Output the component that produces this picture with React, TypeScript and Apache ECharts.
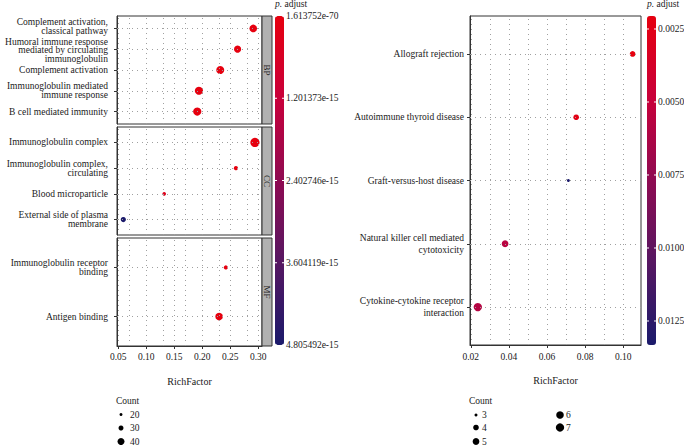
import React, { useEffect, useRef } from 'react';
import * as echarts from 'echarts';

// ---------- data (left: GO enrichment, three facets) ----------
const facetNames = ['BP', 'CC', 'MF'];

const bpTerms = [
  'Complement activation,\nclassical pathway',
  'Humoral immune response\nmediated by circulating\nimmunoglobulin',
  'Complement activation',
  'Immunoglobulin mediated\nimmune response',
  'B cell mediated immunity',
];
const bpRichFactor = [0.291, 0.263, 0.232, 0.194, 0.191];
const bpCount = [43, 41, 45, 46, 46];
const bpPadjust = [3.2e-40, 1.1e-38, 2.5e-35, 1.8e-30, 2.1e-30];

const ccTerms = [
  'Immunoglobulin complex',
  'Immunoglobulin complex,\ncirculating',
  'Blood microparticle',
  'External side of plasma\nmembrane',
];
const ccRichFactor = [0.294, 0.26, 0.132, 0.059];
const ccCount = [51, 26, 23, 31];
const ccPadjust = [1.613752e-70, 4.2e-20, 3.1e-16, 4.805492e-15];

const mfTerms = ['Immunoglobulin receptor\nbinding', 'Antigen binding'];
const mfRichFactor = [0.242, 0.23];
const mfCount = [26, 43];
const mfPadjust = [6.5e-18, 2.3e-45];

// ---------- data (right: KEGG enrichment) ----------
const keggTerms = [
  'Allograft rejection',
  'Autoimmune thyroid disease',
  'Graft-versus-host disease',
  'Natural killer cell mediated\ncytotoxicity',
  'Cytokine-cytokine receptor\ninteraction',
];
const keggRichFactor = [0.1049, 0.0753, 0.0712, 0.038, 0.0237];
const keggCount = [4, 4, 3, 5, 7];
const keggPadjust = [0.002055, 0.0024, 0.013322, 0.0056, 0.0058];

// ---------- axes / legends ----------
const leftXTicks = [0.05, 0.1, 0.15, 0.2, 0.25, 0.3];
const leftXGridLines = [0.05, 0.075, 0.1, 0.125, 0.15, 0.175, 0.2, 0.225, 0.25, 0.275, 0.3];
const rightXTicks = [0.02, 0.04, 0.06, 0.08, 0.1];
const rightXGridLines = [0.02, 0.03, 0.04, 0.05, 0.06, 0.07, 0.08, 0.09, 0.1];

const leftColorTicks = [1.613752e-70, 1.201373e-15, 2.402746e-15, 3.604119e-15, 4.805492e-15];
const leftColorTickLabels = ['1.613752e-70', '1.201373e-15', '2.402746e-15', '3.604119e-15', '4.805492e-15'];
const rightColorTicks = [0.0025, 0.005, 0.0075, 0.01, 0.0125];
const rightColorTickLabels = ['0.0025', '0.0050', '0.0075', '0.0100', '0.0125'];
const rightColorRange = [0.002055, 0.013322];

const leftLegendCounts = [20, 30, 40];
const rightLegendCounts = [3, 4, 5, 6, 7];

// ---------- styling ----------
const FONT = 'Liberation Serif';
const TXT = '#1a1a1a';
const BORDER = '#333333';
const GRIDC = '#a0a0a0';
const COLORS = ['#e6000f', '#c8003a', '#8e0b52', '#561762', '#1b1a6b'];

const leftSize = (c: number) => 0.2 * c - 1;
const rightSize = (c: number) => 3 + 5.3 * Math.sqrt((c - 3) / 4);

const leftPanelLayout = [
  { top: 16, height: 108 },
  { top: 127, height: 108 },
  { top: 238, height: 108 },
];
const leftGridX = { left: 117, width: 145 };
const rightGrid = { left: 470, top: 16, width: 171, height: 329 };
const leftXRange = [0.0477, 0.3066];
const rightXRange = [0.0196, 0.1093];
const barLeft = { x: 275, top: 16, h: 329, w: 9 };
const barRight = { x: 647, top: 16, h: 329, w: 9 };
// small vertical nudges (axis units) of the crowded labels in the BP facet, as in the reference
const labelNudge: Record<number, Record<number, number>> = { 0: { 5: 0.09, 4: -0.06 } };

export default function App() {
  const ref = useRef<HTMLDivElement>(null);

  useEffect(() => {
    if (!ref.current) return;
    const chart = echarts.init(ref.current, undefined, { renderer: 'svg' });

    const facets = [
      { terms: bpTerms, rich: bpRichFactor, count: bpCount, padj: bpPadjust },
      { terms: ccTerms, rich: ccRichFactor, count: ccCount, padj: ccPadjust },
      { terms: mfTerms, rich: mfRichFactor, count: mfCount, padj: mfPadjust },
    ];
    const allFacets = [
      ...facets,
      { terms: keggTerms, rich: keggRichFactor, count: keggCount, padj: keggPadjust },
    ];

    const grids: any[] = [];
    const xAxes: any[] = [];
    const yAxes: any[] = [];
    const series: any[] = [];

    allFacets.forEach((f, g) => {
      const isRight = g === 3;
      const n = f.terms.length;
      const showX = g === 2 || g === 3;
      const lay = isRight
        ? rightGrid
        : { left: leftGridX.left, width: leftGridX.width, top: leftPanelLayout[g].top, height: leftPanelLayout[g].height };
      grids.push({
        left: lay.left, top: lay.top, width: lay.width, height: lay.height,
        show: true, borderColor: BORDER, borderWidth: 1, backgroundColor: '#ffffff', containLabel: false,
      });
      const ticks = isRight ? rightXTicks : leftXTicks;
      const range = isRight ? rightXRange : leftXRange;
      xAxes.push({
        gridIndex: g, type: 'value', min: range[0], max: range[1],
        axisLine: { show: showX, lineStyle: { color: BORDER, width: 1 } },
        axisTick: { show: showX, length: 3, customValues: ticks, lineStyle: { color: BORDER } },
        axisLabel: {
          show: showX, customValues: ticks, formatter: (v: number) => v.toFixed(2),
          showMinLabel: true, showMaxLabel: true, hideOverlap: false,
          fontFamily: FONT, fontSize: 9.5, color: TXT, margin: isRight ? 7 : 6,
        },
        splitLine: { show: false },
        name: showX ? 'RichFactor' : '', nameLocation: 'middle', nameGap: 30,
        nameTextStyle: { fontFamily: FONT, fontSize: 10, color: TXT },
      });
      const yVals = f.terms.map((_, i) => i + 1);
      const nudge = labelNudge[g] || {};
      const nv = (v: number) => v + (nudge[v] || 0);
      // top term listed first so the multi-line neighbours are not dropped by the overlap check
      const labelVals = [nv(n), ...yVals.slice(0, n - 1).map(nv)];
      yAxes.push({
        gridIndex: g, type: 'value', min: 0.4, max: n + 0.6,
        axisLine: { show: true, lineStyle: { color: BORDER, width: 1 } },
        axisTick: { show: true, length: 3, customValues: yVals, lineStyle: { color: BORDER } },
        axisLabel: {
          customValues: labelVals,
          hideOverlap: false,
          formatter: (v: number) => f.terms[n - Math.round(v)] ?? '',
          fontFamily: FONT, fontSize: 9.5, lineHeight: isRight ? 12 : 8.8, color: TXT,
          margin: isRight ? 6 : 9, align: 'right',
        },
        splitLine: { show: false },
      });
      const gl = isRight ? rightXGridLines : leftXGridLines;
      series.push({
        type: 'line', xAxisIndex: g, yAxisIndex: g, data: [], z: 1, silent: true,
        markLine: {
          silent: true, symbol: ['none', 'none'], label: { show: false },
          lineStyle: { type: [1, 4], color: GRIDC, width: 1 },
          emphasis: { disabled: true },
          data: [...gl.map((v) => ({ xAxis: v })), ...yVals.map((v) => ({ yAxis: v }))],
        },
      });
    });

    const scatterStart = series.length;
    allFacets.forEach((f, g) => {
      const n = f.terms.length;
      const sizeFn = g === 3 ? rightSize : leftSize;
      series.push({
        type: 'scatter', xAxisIndex: g, yAxisIndex: g, z: 3, silent: true,
        symbol: 'circle',
        symbolSize: (val: number[]) => sizeFn(val[3]),
        itemStyle: { opacity: 1 },
        data: f.terms.map((t, i) => [f.rich[i], n - i, f.padj[i], f.count[i]]),
      });
    });

    const graphics: any[] = [];
    // strips
    leftPanelLayout.forEach((p, i) => {
      graphics.push({
        type: 'rect', shape: { x: 262, y: p.top, width: 10, height: p.height },
        style: { fill: '#b1b1b1', stroke: BORDER, lineWidth: 1 }, z: 10,
      });
      graphics.push({
        type: 'text', x: 267, y: p.top + p.height / 2, rotation: -Math.PI / 2,
        style: { text: facetNames[i], fontFamily: FONT, fontSize: 9, fill: TXT, align: 'center', verticalAlign: 'middle' },
        z: 11,
      });
    });

    const colorbarText = (bar: typeof barLeft, vals: number[], labels: string[], vmin: number, vmax: number) => {
      graphics.push({
        type: 'text', x: bar.x, y: 4,
        style: {
          text: '{i|p.} adjust', fontFamily: FONT, fontSize: 9.5, fill: TXT, verticalAlign: 'middle',
          rich: { i: { fontStyle: 'italic', fontFamily: FONT, fontSize: 9.5, fill: TXT } },
        },
      });
      vals.forEach((v, k) => {
        const y = bar.top + ((v - vmin) / (vmax - vmin)) * bar.h;
        graphics.push({
          type: 'text', x: bar.x + bar.w + 2, y,
          style: { text: labels[k], fontFamily: FONT, fontSize: 9.5, fill: TXT, verticalAlign: 'middle' },
        });
        graphics.push({ type: 'line', shape: { x1: bar.x, y1: y, x2: bar.x + 2, y2: y }, style: { stroke: '#ffffff', lineWidth: 1 }, z: 20 });
        graphics.push({ type: 'line', shape: { x1: bar.x + bar.w - 2, y1: y, x2: bar.x + bar.w, y2: y }, style: { stroke: '#ffffff', lineWidth: 1 }, z: 20 });
      });
    };
    colorbarText(barLeft, leftColorTicks, leftColorTickLabels, leftColorTicks[0], leftColorTicks[4]);
    colorbarText(barRight, rightColorTicks, rightColorTickLabels, rightColorRange[0], rightColorRange[1]);

    // size legends
    graphics.push({ type: 'text', x: 116, y: 401, style: { text: 'Count', fontFamily: FONT, fontSize: 9.5, fill: TXT, verticalAlign: 'middle' } });
    const leftLegY = [414.5, 428, 441.5];
    leftLegendCounts.forEach((c, i) => {
      graphics.push({ type: 'circle', shape: { cx: 121, cy: leftLegY[i], r: leftSize(c) / 2 }, style: { fill: '#000' } });
      graphics.push({ type: 'text', x: 130, y: leftLegY[i], style: { text: String(c), fontFamily: FONT, fontSize: 9.5, fill: TXT, verticalAlign: 'middle' } });
    });
    graphics.push({ type: 'text', x: 469, y: 401, style: { text: 'Count', fontFamily: FONT, fontSize: 9.5, fill: TXT, verticalAlign: 'middle' } });
    const rightLegPos = [
      [476, 415], [476, 427.5], [476, 441.5], [560, 415], [560, 427.5],
    ];
    rightLegendCounts.forEach((c, i) => {
      const [cx, cy] = rightLegPos[i];
      graphics.push({ type: 'circle', shape: { cx, cy, r: rightSize(c) / 2 }, style: { fill: '#000' } });
      graphics.push({ type: 'text', x: cx + 6, y: cy, style: { text: String(c), fontFamily: FONT, fontSize: 9.5, fill: TXT, verticalAlign: 'middle' } });
    });

    chart.setOption({
      animation: false,
      backgroundColor: '#ffffff',
      textStyle: { fontFamily: FONT },
      grid: grids,
      xAxis: xAxes,
      yAxis: yAxes,
      visualMap: [
        {
          type: 'continuous', seriesIndex: [scatterStart, scatterStart + 1, scatterStart + 2], dimension: 2,
          min: leftColorTicks[0], max: leftColorTicks[4], inverse: true, calculable: false, show: true,
          left: barLeft.x, top: barLeft.top, itemWidth: barLeft.w, itemHeight: barLeft.h, padding: 0,
          inRange: { color: COLORS }, hoverLink: false,
        },
        {
          type: 'continuous', seriesIndex: [scatterStart + 3], dimension: 2,
          min: rightColorRange[0], max: rightColorRange[1], inverse: true, calculable: false, show: true,
          left: barRight.x, top: barRight.top, itemWidth: barRight.w, itemHeight: barRight.h, padding: 0,
          inRange: { color: COLORS }, hoverLink: false,
        },
      ],
      series,
      graphic: { elements: graphics },
    });

    return () => chart.dispose();
  }, []);

  return <div ref={ref} style={{ position: 'fixed', left: 0, top: 0, width: 684, height: 447 }} />;
}
